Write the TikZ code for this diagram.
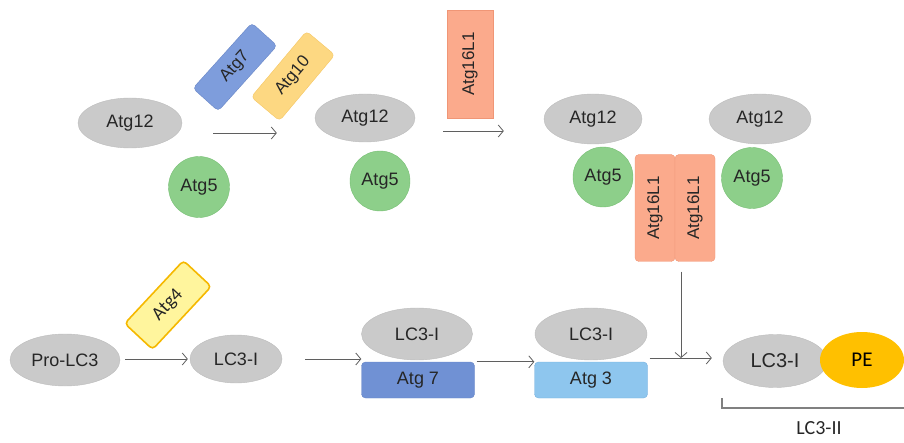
\documentclass[tikz,border=0pt]{standalone}
\usepackage{fontspec}
\setmainfont{Liberation Sans}
\newfontfamily\calibfont{Carlito}
\usepackage{tikz}
\usetikzlibrary{positioning, shapes.geometric, arrows.meta}
\definecolor{ProtGray}{RGB}{202, 202, 202}
\definecolor{ProtEdge}{RGB}{188, 188, 188}
\definecolor{FiveGreen}{RGB}{141, 207, 138}
\definecolor{FiveEdge}{RGB}{118, 190, 115}
\definecolor{SalmonFill}{RGB}{251, 170, 140}
\definecolor{SalmonEdge}{RGB}{240, 150, 118}
\definecolor{SevenBlue}{RGB}{126, 157, 220}
\definecolor{SevenEdge}{RGB}{104, 134, 198}
\definecolor{TenYellow}{RGB}{253, 216, 130}
\definecolor{TenEdge}{RGB}{245, 198, 98}
\definecolor{FourFill}{RGB}{255, 245, 157}
\definecolor{FourEdge}{RGB}{245, 184, 0}
\definecolor{BoxBlue}{RGB}{112, 145, 212}
\definecolor{ThreeBlue}{RGB}{142, 198, 238}
\definecolor{ThreeEdge}{RGB}{118, 176, 222}
\definecolor{PEOrange}{RGB}{255, 192, 0}
\definecolor{ArrowGray}{RGB}{95, 95, 95}
\definecolor{BracketGray}{RGB}{128, 128, 128}
\definecolor{InkDark}{RGB}{38, 38, 38}

\begin{document}
\begin{tikzpicture}[x=1pt, y=-1pt,
    prot/.style={ellipse, fill=ProtGray, draw=ProtEdge, inner sep=0pt, text=InkDark,
                 font=\fontsize{18}{20}\selectfont},
    five/.style={circle, fill=FiveGreen, draw=FiveEdge, inner sep=0pt, minimum size=61pt,
                 text=InkDark, font=\fontsize{18}{20}\selectfont},
    enzyme/.style={rectangle, rounded corners=4pt, inner sep=0pt, text=InkDark,
                   font=\fontsize{17}{19}\selectfont},
    flow/.style={draw=ArrowGray, line width=0.8pt, -{Straight Barb[length=5pt, width=12pt]}}]
    \useasboundingbox (0,0) rectangle (904,443);

    % Atg12 - Atg5 conjugation
    \node[prot, minimum width=104pt, minimum height=50pt] (twelveA) at (130,123) {Atg12};
    \node[five] (fiveA) at (199,187) {Atg5};
    \node[enzyme, fill=SevenBlue, draw=SevenEdge, minimum width=88pt, minimum height=34pt,
          rotate=48] (sevenTop) at (235,67) {Atg7};
    \node[enzyme, fill=TenYellow, draw=TenEdge, minimum width=86pt, minimum height=37pt,
          rotate=50] (ten) at (293,76) {Atg10};
    \node[prot, minimum width=100pt, minimum height=48pt] (twelveB) at (365,118) {Atg12};
    \node[five, minimum size=60pt] (fiveB) at (380,181) {Atg5};
    \draw[flow, shorten <=31pt, shorten >=38pt] (twelveA.east |- 0,133) -- (twelveB.west |- 0,133);

    % Atg16L1 dimer
    \node[enzyme, rounded corners=0pt, fill=SalmonFill, draw=SalmonEdge, minimum width=108pt,
          minimum height=46pt, rotate=90] (sixTop) at (470,64) {Atg16L1};
    \node[prot, minimum width=98pt, minimum height=50pt] (twelveC) at (593,119) {Atg12};
    \node[prot, minimum width=102pt, minimum height=50pt] (twelveD) at (760,119) {Atg12};
    \node[five, minimum size=60pt] (fiveC) at (603,177) {Atg5};
    \node[five] (fiveD) at (752,178) {Atg5};
    \node[enzyme, fill=SalmonFill, draw=SalmonEdge, minimum width=107pt, minimum height=40pt,
          rotate=90] (sixL) at (655,208) {Atg16L1};
    \node[enzyme, fill=SalmonFill, draw=SalmonEdge, minimum width=107pt, minimum height=40pt,
          rotate=90] (sixR) at (695,208) {Atg16L1};
    \draw[flow, shorten <=28pt, shorten >=40pt] (twelveB.east |- 0,131) -- (twelveC.west |- 0,131);

    % LC3 processing
    \node[prot, minimum width=110pt, minimum height=52pt] (proLC) at (65,360) {Pro-LC3};
    \node[enzyme, fill=FourFill, draw=FourEdge, line width=1.6pt, minimum width=86pt,
          minimum height=38pt, rotate=47, font=\calibfont\fontsize{19}{21}\selectfont] (four) at (168,305) {Atg4};
    \node[prot, minimum width=92pt, minimum height=48pt] (lcA) at (236,359) {LC3-I};
    \draw[flow, shorten <=5pt, shorten >=2pt] (proLC.east |- lcA.west) -- (lcA.west);

    \node[enzyme, fill=BoxBlue, draw=SevenEdge, minimum width=113pt, minimum height=36pt,
          font=\fontsize{18}{20}\selectfont] (sevenLow) at (418,380) {Atg 7};
    \node[prot, minimum width=111pt, minimum height=52pt] (lcB) at (417,334) {LC3-I};
    \draw[flow, shorten <=23pt] (lcA.east) -- (lcA.east -| sevenLow.west);

    \node[enzyme, fill=ThreeBlue, draw=ThreeEdge, minimum width=113pt, minimum height=36pt,
          font=\fontsize{18}{20}\selectfont] (three) at (591,380) {Atg 3};
    \node[prot, minimum width=112pt, minimum height=52pt] (lcC) at (591,334) {LC3-I};
    \draw[flow, shorten <=2pt] (sevenLow.north east) -- (three.north west);

    % LC3-II
    \node[prot, minimum width=104pt, minimum height=53pt, font=\fontsize{20}{22}\selectfont] (lcD) at (775,361) {LC3-I};
    \node[ellipse, fill=PEOrange, inner sep=0pt, minimum width=84pt, minimum height=56pt,
          font=\calibfont\fontsize{21}{23}\selectfont] (pe) at (862,360) {PE};
    \coordinate (dropEnd) at (681,358);
    \draw[flow, shorten <=2pt, shorten >=11pt] (three.east |- dropEnd) -- (lcD.west |- dropEnd);
    \draw[flow, shorten <=10pt] (sixR.west -| dropEnd) -- (dropEnd);

    \draw[BracketGray, line width=1.5pt] (722,398) -- (722,408) -- (906,408);
    \node[font=\calibfont\fontsize{20}{22}\selectfont, text=InkDark] (lcTwo) at (819,428) {LC3-II};
\end{tikzpicture}
\end{document}
